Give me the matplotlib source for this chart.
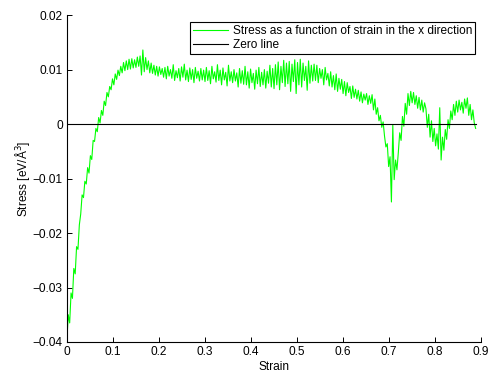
import numpy as np
import matplotlib
matplotlib.use("Agg")
import matplotlib.pyplot as plt

plt.rcParams['font.family'] = ['Liberation Sans', 'DejaVu Sans']

# stress values in units of 1e-3 eV/A^3, one value every 0.003 strain
stress_rise = [
    -39.5, -35.0, -36.5, -31.0, -32.0, -26.5, -27.5, -22.5, -23.0, -18.5,
    -16.5, -13.0, -13.5, -10.5, -11.0, -8.0, -9.0, -5.8, -6.5, -3.0,
    -3.2, -0.8, -1.4, 1.2, 0.2, 2.5, 1.6, 4.2, 3.4, 5.8,
    5.0, 6.9, 6.3, 8.3, 7.2, 9.2, 8.2, 9.9, 8.9, 10.6,
    9.4, 11.3, 9.8, 11.6, 10.0, 11.9, 10.1, 12.0, 10.3, 11.8,
    10.4, 12.3, 10.6, 12.5, 9.0, 13.6, 9.6, 12.2, 10.0, 11.6,
]
stress_plateau = [
    9.4, 11.2, 9.3, 10.8, 9.0, 10.6, 8.8, 10.5, 9.1, 10.2,
    8.6, 10.4, 8.3, 10.6, 8.8, 10.0, 8.4, 10.9, 8.0, 9.8,
    8.5, 10.2, 7.9, 10.5, 8.6, 11.0, 8.1, 9.9, 7.8, 10.3,
    8.2, 10.0, 7.6, 10.4, 8.4, 9.7, 7.9, 10.2, 8.1, 9.9,
    7.8, 10.4, 8.0, 9.8, 7.4, 10.6, 8.3, 9.6, 7.7, 10.9,
    8.0, 9.9, 7.2, 10.3, 8.1, 9.5, 7.0, 10.8, 7.9, 9.6,
    7.6, 10.0, 7.9, 9.4, 6.8, 10.2, 7.5, 9.8, 7.3, 10.6,
    7.2, 9.6, 6.6, 10.1, 7.6, 9.3, 6.4, 9.9, 7.4, 10.4,
    6.9, 9.5, 7.2, 10.0, 6.6, 9.7, 7.5, 10.8, 6.8, 10.2,
    6.5, 10.9, 7.2, 11.4, 6.3, 10.6, 7.6, 11.7, 6.9, 11.2,
    7.4, 11.5, 6.0, 11.0, 7.8, 11.8, 5.6, 11.3, 7.2, 11.9,
    6.8, 11.2, 8.0, 10.6, 6.2, 11.6, 7.5, 10.8, 7.9, 11.0,
    8.0, 10.8, 7.6, 10.2, 8.4, 10.0, 7.2, 10.4, 8.1, 9.3,
    7.0, 9.6, 6.8, 8.9, 6.3, 9.2, 6.0, 8.4, 6.4, 8.2,
    5.6, 7.8, 5.2, 7.6, 5.8, 6.9, 4.7, 7.0, 4.9, 6.4,
    4.6, 6.2, 4.2, 5.9, 3.9, 5.5, 4.4, 5.6, 3.6, 5.2,
]
stress_tail = [
    3.8, 5.4, 2.6, 4.6, 1.8, 3.0, 0.6, 1.6, -0.6, 0.4,
    -2.2, -4.2, -3.6, -7.8, -6.0, -14.3, -0.2, -10.2, -6.6, -8.4,
    -5.2, -1.6, -3.0, 1.4, -0.4, 3.8, 1.8, 5.6, 3.4, 6.0,
    3.9, 5.8, 3.6, 5.2, 2.9, 4.9, 2.6, 4.4, 2.2, 3.9,
    2.8, -0.6, 1.8, -2.4, 0.6, -3.2, -0.8, -4.0, -1.8, -4.6,
    3.0, -6.6, -2.4, -4.8, -1.0, -2.8, 0.8, -0.8, 2.4, 0.8,
    3.6, 1.6, 4.2, 2.2, 4.4, 2.6, 4.0, 2.0, 4.6, 2.9,
    4.8, 1.6, 3.6, 0.8, 2.6, 0.2, -0.8,
]
strain_step = 0.003

stress = np.array(stress_rise + stress_plateau + stress_tail) * 1e-3
strain = np.arange(len(stress)) * strain_step

fs = 8.6

fig = plt.figure(figsize=(4.92, 3.74), dpi=100)
ax = fig.add_axes([0.136, 0.0856, 0.842, 0.874])

ax.plot(strain, stress, color=(0, 1, 0), lw=0.8,
        label='Stress as a function of strain in the x direction')
ax.plot([strain[0], strain[-1]], [0, 0], color='black', lw=0.8, label='Zero line')

ax.set_xlim(0, 0.9)
ax.set_ylim(-0.04, 0.02)
ax.set_xticks(np.arange(0, 0.91, 0.1))
ax.set_xticklabels(['0', '0.1', '0.2', '0.3', '0.4', '0.5', '0.6', '0.7', '0.8', '0.9'])
ax.set_yticks([-0.04, -0.03, -0.02, -0.01, 0, 0.01, 0.02])
ax.set_yticklabels(['\u22120.04', '\u22120.03', '\u22120.02', '\u22120.01', '0', '0.01', '0.02'])
ax.tick_params(direction='in', length=3.5, width=0.7, labelsize=fs, pad=3)

for s in ['top', 'right']:
    ax.spines[s].set_visible(False)
for s in ['left', 'bottom']:
    ax.spines[s].set_linewidth(0.8)

ax.set_xlabel('Strain', fontsize=fs, labelpad=2)
ax.set_ylabel('Stress [eV/\u00c5$^3$]', fontsize=fs, labelpad=0.5)

leg = ax.legend(loc='upper right', bbox_to_anchor=(0.9855, 0.9786), borderaxespad=0,
                fontsize=fs, fancybox=False, framealpha=1, edgecolor='black',
                handlelength=2.9, handletextpad=0.4, borderpad=0.25, labelspacing=0.15)
leg.get_frame().set_linewidth(0.8)

fig.savefig('out.png', dpi=100)
